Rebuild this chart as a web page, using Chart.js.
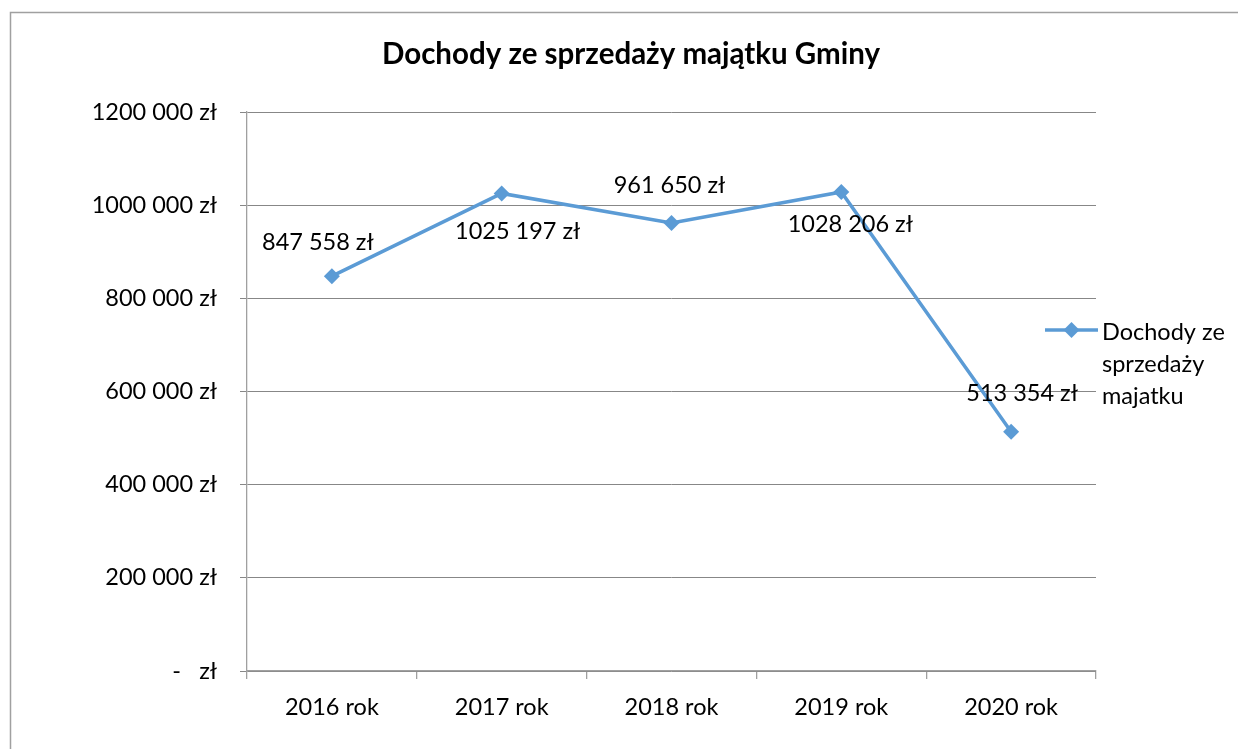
<!DOCTYPE html>
<html>
<head>
<meta charset="utf-8">
<script src="https://cdn.jsdelivr.net/npm/chart.js@4/dist/chart.umd.min.js"></script>
<style>
  html, body { margin: 0; padding: 0; background: #fff; }
  #wrap { position: relative; width: 1238px; height: 749px; }
</style>
</head>
<body>
<div id="wrap"><canvas id="c" width="1238" height="749"></canvas></div>
<script>
const categories = ['2016 rok', '2017 rok', '2018 rok', '2019 rok', '2020 rok'];
const seriesName = ['Dochody ze', 'sprzedaży', 'majatku'];
const values = [847558, 1025197, 961650, 1028206, 513354];
const dataLabels = ['847 558 zł', '1025 197 zł', '961 650 zł', '1028 206 zł', '513 354 zł'];
const yTickValues = [0, 200000, 400000, 600000, 800000, 1000000, 1200000];
const yTickLabels = ['-   zł', '200 000 zł', '400 000 zł', '600 000 zł', '800 000 zł', '1000 000 zł', '1200 000 zł'];
const titleText = 'Dochody ze sprzedaży majątku Gminy';

const FONT = 'Lato, "Open Sans", sans-serif';
const LINE = '#5b9bd5';
const FS = 23.5;
// label offsets from their points (style only)
const labelOffsets = [[-14, -34], [16, 38], [-2, -38], [9, 32], [11, -38]];

const framePlugin = {
  id: 'frame',
  beforeDraw(chart) {
    const ctx = chart.ctx;
    ctx.save();
    ctx.strokeStyle = '#a0a0a0';
    ctx.lineWidth = 1.5;
    ctx.strokeRect(10.5, 12.5, 1400, 900);
    ctx.restore();
  }
};

const labelPlugin = {
  id: 'pointLabels',
  afterDatasetsDraw(chart) {
    const ctx = chart.ctx;
    const meta = chart.getDatasetMeta(0);
    ctx.save();
    ctx.font = FS + 'px ' + FONT;
    ctx.fillStyle = '#000';
    ctx.textAlign = 'center';
    ctx.textBaseline = 'middle';
    meta.data.forEach((pt, i) => {
      const o = labelOffsets[i];
      ctx.fillText(dataLabels[i], pt.x + o[0], pt.y + o[1]);
    });
    ctx.restore();
  }
};

const legendPlugin = {
  id: 'sideLegend',
  afterDraw(chart) {
    const ctx = chart.ctx;
    const ca = chart.chartArea;
    const x0 = ca.right - 51, x1 = ca.right + 2, y = 330;
    ctx.save();
    ctx.strokeStyle = LINE;
    ctx.lineWidth = 3.5;
    ctx.beginPath();
    ctx.moveTo(x0, y); ctx.lineTo(x1, y); ctx.stroke();
    const cx = (x0 + x1) / 2, r = 8;
    ctx.fillStyle = LINE;
    ctx.beginPath();
    ctx.moveTo(cx - r, y); ctx.lineTo(cx, y - r); ctx.lineTo(cx + r, y); ctx.lineTo(cx, y + r);
    ctx.closePath(); ctx.fill();
    ctx.fillStyle = '#000';
    ctx.font = FS + 'px ' + FONT;
    ctx.textAlign = 'left';
    ctx.textBaseline = 'middle';
    seriesName.forEach((t, i) => ctx.fillText(t, x1 + 4, 332 + i * 32));
    ctx.restore();
  }
};

new Chart(document.getElementById('c'), {
  type: 'line',
  data: {
    labels: categories,
    datasets: [{
      label: seriesName.join(' '),
      data: values,
      borderColor: LINE,
      backgroundColor: LINE,
      borderWidth: 3.5,
      pointStyle: 'rectRot',
      pointRadius: 8,
      pointBorderWidth: 0,
      pointBackgroundColor: LINE,
      tension: 0,
      fill: false
    }]
  },
  options: {
    responsive: false,
    animation: false,
    layout: { padding: { left: 24, right: 0, top: 0, bottom: 0 } },
    plugins: {
      legend: { display: false },
      tooltip: { enabled: false },
      title: {
        display: true,
        text: titleText,
        color: '#000',
        font: { family: FONT, size: 29.5, weight: 'bold', lineHeight: 1.2 },
        padding: { top: 36.3, bottom: 40.3 }
      }
    },
    scales: {
      x: {
        offset: true,
        grid: { offset: true, drawOnChartArea: false, drawTicks: true, tickLength: 8, color: '#a0a0a0', lineWidth: 1.3 },
        border: { display: true, color: '#a0a0a0', width: 1.3 },
        ticks: { color: '#000', font: { family: FONT, size: FS }, padding: 14, maxRotation: 0 },
        afterFit(s) { s.height = 78; }
      },
      y: {
        min: 0,
        max: 1200000,
        afterBuildTicks(s) { s.ticks = yTickValues.map(v => ({ value: v })); },
        grid: { color: '#878787', lineWidth: 1, tickLength: 7, drawTicks: true },
        border: { display: true, color: '#a0a0a0', width: 1.3 },
        ticks: {
          color: '#000',
          font: { family: FONT, size: FS },
          padding: 23,
          callback(v) { const i = yTickValues.indexOf(v); return i >= 0 ? yTickLabels[i] : ''; }
        },
        afterFit(s) { s.width = 223; }
      },
      y2: {
        position: 'right',
        display: true,
        grid: { display: false, drawTicks: false },
        border: { display: false },
        ticks: { display: false },
        afterFit(s) { s.width = 142; }
      }
    }
  },
  plugins: [framePlugin, labelPlugin, legendPlugin]
});
</script>
</body>
</html>
